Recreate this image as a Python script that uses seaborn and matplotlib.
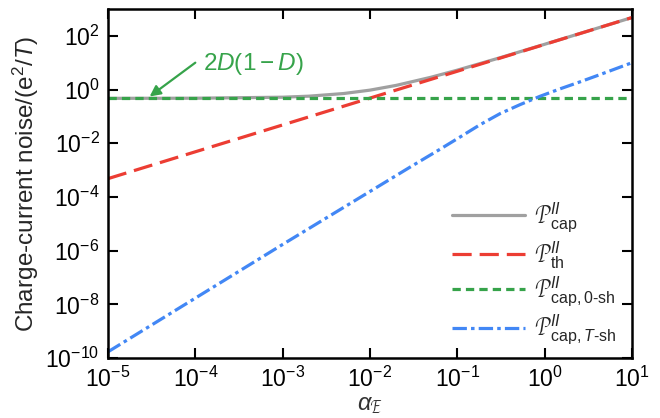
import matplotlib
matplotlib.use("Agg")
import matplotlib.pyplot as plt
import seaborn as sns
import pandas as pd

# Data
alpha_cap = [1e-5, 1e-4, 1e-3, 2e-3, 5e-3, 1e-2, 2e-2, 5e-2, 1e-1, 3e-1, 1e0, 3e0, 1e1]
p_cap = [0.47, 0.475, 0.518, 0.566, 0.71, 0.95, 1.43, 2.87, 5.27, 14.9, 48.5, 144.5, 480.5]

alpha_th = [1e-5, 1e-4, 1e-3, 1e-2, 1e-1, 1e0, 1e1]
p_th = [4.8e-4, 4.8e-3, 4.8e-2, 0.48, 4.8, 48.0, 480.0]

alpha_0sh = [1e-5, 1e1]
p_0sh = [0.47, 0.47]

alpha_tsh = [1e-5, 1e-4, 1e-3, 1e-2, 3e-2, 6.35e-2, 0.108, 0.182, 0.309, 0.524,
             0.887, 1.5, 2.55, 4.33, 10.0]
p_tsh = [1.7e-10, 1.7e-8, 1.7e-6, 1.6e-4, 1.4e-3, 6.0e-3, 1.72e-2, 4.9e-2, 0.127, 0.275,
         0.562, 1.06, 1.94, 3.63, 10.0]

labels = [r"$\mathcal{P}^{II}_{\mathrm{cap}}$",
          r"$\mathcal{P}^{II}_{\mathrm{th}}$",
          r"$\mathcal{P}^{II}_{\mathrm{cap,0\text{-}sh}}$",
          r"$\mathcal{P}^{II}_{\mathrm{cap,}T\text{-}\mathrm{sh}}$"]

sns.set_style("ticks")
plt.rcParams["font.family"] = ["Liberation Sans", "DejaVu Sans"]
plt.rcParams["mathtext.fontset"] = "custom"
plt.rcParams["mathtext.rm"] = "Liberation Sans"
plt.rcParams["mathtext.it"] = "Liberation Sans:italic"
plt.rcParams["mathtext.bf"] = "Liberation Sans:bold"

fig = plt.figure(figsize=(6.6, 4.18), dpi=100)
ax = fig.add_axes([0.1636, 0.1435, 0.794, 0.835])

df_cap = pd.DataFrame({"a": alpha_cap, "p": p_cap})
df_th = pd.DataFrame({"a": alpha_th, "p": p_th})
df_0 = pd.DataFrame({"a": alpha_0sh, "p": p_0sh})
df_t = pd.DataFrame({"a": alpha_tsh, "p": p_tsh})

sns.lineplot(data=df_cap, x="a", y="p", ax=ax, color="#a0a0a0", lw=2.3, label=labels[0])
sns.lineplot(data=df_th, x="a", y="p", ax=ax, color="#ec3d33", lw=2.3,
             label=labels[1]).lines[-1].set_dashes((6, 2.5))
l0 = sns.lineplot(data=df_0, x="a", y="p", ax=ax, color="#36a34a", lw=2.3, label=labels[2]).lines[-1]
l0.set_dashes((2.6, 1.6))
lt = sns.lineplot(data=df_t, x="a", y="p", ax=ax, color="#4287f5", lw=2.3, label=labels[3]).lines[-1]
lt.set_dashes((4.5, 1.3, 1.1, 1.3))

ax.set_xscale("log")
ax.set_yscale("log")
ax.set_xlim(1e-5, 1e1)
ax.set_ylim(1e-10, 1e3)
ax.set_xticks([1e-5, 1e-4, 1e-3, 1e-2, 1e-1, 1e0, 1e1])
ax.set_yticks([1e-10, 1e-8, 1e-6, 1e-4, 1e-2, 1e0, 1e2])
ax.minorticks_off()
ax.tick_params(which="major", direction="in", length=7, width=1.5, top=True, right=True,
               labelsize=16.5, pad=6, colors="black")
for s in ax.spines.values():
    s.set_linewidth(1.8)
    s.set_color("black")

ax.set_xlabel(r"$\alpha_{\mathcal{E}}$", fontsize=17, labelpad=2, color="#333333")
ax.set_ylabel(r"Charge-current noise/(e$^2$/$T$)", fontsize=17.5, labelpad=3)

ax.text(1.22e-4, 8.6, r"$2D(1-D)$", fontsize=17.5, color="#36a34a", va="center", ha="left")
ax.annotate("", xy=(3.0e-5, 0.55), xytext=(1.0e-4, 10.0),
            arrowprops=dict(arrowstyle="-|>", color="#36a34a", lw=1.6,
                            mutation_scale=16, shrinkA=0, shrinkB=0))

leg = ax.legend(loc="lower right", frameon=False, fontsize=16.5, handlelength=3.2,
                labelspacing=0.18, bbox_to_anchor=(1.0, -0.015), borderaxespad=0.3,
                handletextpad=0.4)

fig.savefig("out.png", dpi=100)
